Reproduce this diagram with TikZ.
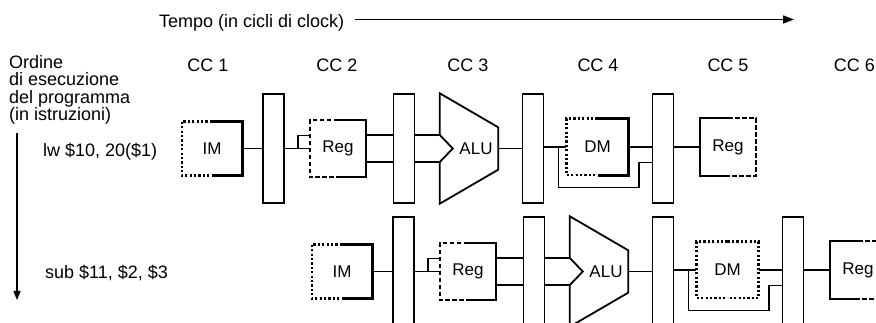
\documentclass[tikz,border=0pt]{standalone}
\usepackage{fontspec}
\setmainfont{Liberation Sans}
\usetikzlibrary{calc,arrows.meta}
\tikzset{
  txt/.style={font=\fontsize{18}{17.5}\selectfont, inner sep=0pt},
  unit/.style={font=\fontsize{17}{20}\selectfont, inner sep=0pt},
  preg/.style={draw, line width=1.8pt, minimum width=21pt, minimum height=109pt, inner sep=0pt},
  wire/.style={line width=1.8pt},
  alushape/.style={line width=1.8pt, line join=miter},
  solidhalf/.style={line width=2.8pt},
  thinsolid/.style={line width=2pt},
  dothalf/.style={line width=2.6pt, dash pattern=on 2.2pt off 2.2pt},
  dashhalf/.style={line width=2pt, dash pattern=on 4.5pt off 2.5pt},
  arrowline/.style={line width=1.6pt},
}
\newcommand\twostylebox[3]{%
  \draw[#2] (#1.north) -- (#1.north west) -- (#1.south west) -- (#1.south);
  \draw[#3] (#1.north) -- (#1.north east) -- (#1.south east) -- (#1.south);}
\newcommand\pipelinerow[4]{%
  \begin{scope}[shift={(#2,#3)}]
    \node[unit,minimum width=60pt,minimum height=54pt] (im#1) at (212,148.5) {IM};
    \node[preg] (pa#1) at (273.5,148.5) {};
    \node[unit,minimum width=56pt,minimum height=57pt] (rg#1) at (338,148.5) {Reg};
    \node[preg] (pb#1) at (404,148.5) {};
    \node[minimum width=58pt,minimum height=110pt,inner sep=0pt] (alu#1) at (469,148.5) {};
    \node[preg] (pc#1) at (533,148.5) {};
    \node[unit,minimum width=62pt,minimum height=56pt] (dm#1) at (597.5,147) {DM};
    \node[preg] (pd#1) at (663,148.5) {};
    \node[unit,minimum width=56pt,minimum height=57pt] (wb#1) at (728,147) {Reg};
  \end{scope}
  \node[unit] (alut#1) at ([xshift=7pt]alu#1.center) {ALU};
  \draw[alushape] (alu#1.north west) -- ($(alu#1.north east)+(0,34)$)
     -- ($(alu#1.south east)+(0,-34)$) -- (alu#1.south west)
     -- ($(alu#1.west)+(0,13.5)$) -- ($(alu#1.west)+(13,0)$)
     -- ($(alu#1.west)+(0,-13.5)$) -- cycle;
  \twostylebox{im#1}{dothalf}{solidhalf}
  \twostylebox{rg#1}{dashhalf}{thinsolid}
  \twostylebox{dm#1}{dothalf}{#4}
  \twostylebox{wb#1}{thinsolid}{dashhalf}
  % IF -> pipeline register
  \draw[wire] (im#1.east) -- (im#1.east -| pa#1.west);
  % register -> Reg (two read ports)
  \draw[wire] (pa#1.east |- rg#1.west) -- (rg#1.west);
  \coordinate (ri#1) at ($(pa#1.east |- rg#1.west)+(13,0)$);
  \coordinate (rt#1) at ($(rg#1.west)+(0,-13)$);
  \draw[wire] (ri#1) |- (rt#1);
  % Reg -> register -> ALU
  \coordinate (ro1#1) at ($(rg#1.east)+(0,-13.5)$);
  \coordinate (ro2#1) at ($(rg#1.east)+(0,13.5)$);
  \draw[wire] (ro1#1) -- (ro1#1 -| pb#1.west);
  \draw[wire] (ro2#1) -- (ro2#1 -| pb#1.west);
  \draw[wire] (ro1#1 -| pb#1.east) -- (ro1#1 -| alu#1.west);
  \draw[wire] (ro2#1 -| pb#1.east) -- (ro2#1 -| alu#1.west);
  % ALU -> register
  \draw[wire] (alu#1.east) -- (alu#1.east -| pc#1.west);
  % register -> DM, with bypass
  \draw[wire] (pc#1.east |- dm#1.west) -- (dm#1.west);
  \coordinate (bs#1) at ($(pc#1.east |- dm#1.west)+(14,0)$);
  \coordinate (bp#1) at ($(pd#1.west)+(-13,14)$);
  \coordinate (bb#1) at ($(bp#1)+(0,25)$);
  \draw[wire] (bs#1) |- (bb#1) -- (bp#1) -- (bp#1 -| pd#1.west);
  % DM -> register -> Reg
  \draw[wire] (dm#1.east) -- (dm#1.east -| pd#1.west);
  \draw[wire] (pd#1.east |- wb#1.west) -- (wb#1.west);
}
\begin{document}
\begin{tikzpicture}[x=1pt,y=-1pt]
\useasboundingbox (0,0) rectangle (876,323);
\fill[white] (0,0) rectangle (876,323);
\node[txt,anchor=base west] (tempo) at (159,28) {Tempo (in cicli di clock)};
\coordinate (tstart) at (355,19.5);
\coordinate (tend) at (794,19.5);
\draw[arrowline,-{Triangle[length=11pt,width=8pt]}] (tstart) -- (tend);
\node[txt,anchor=north west,align=left] (order) at (9,55) {Ordine\\di esecuzione\\del programma\\(in istruzioni)};
\coordinate (ostart) at (17,133);
\coordinate (oend) at (17,300);
\draw[arrowline,-{Triangle[length=9pt,width=7pt]}] (ostart) -- (oend);
\foreach \i/\x in {1/208,2/337,3/468,4/598,5/728}
  \node[txt] (cc\i) at (\x,65) {CC \i};
\node[txt,anchor=east] (cc6) at (875,65) {CC 6};
\node[txt,anchor=base west] (lw) at (43,157) {lw \$10, 20(\$1)};
\node[txt,anchor=base west] (sub) at (45,279) {sub \$11, \$2, \$3};
\pipelinerow{1}{0}{0}{solidhalf}
\pipelinerow{2}{130}{123}{dothalf}
\end{tikzpicture}
\end{document}
